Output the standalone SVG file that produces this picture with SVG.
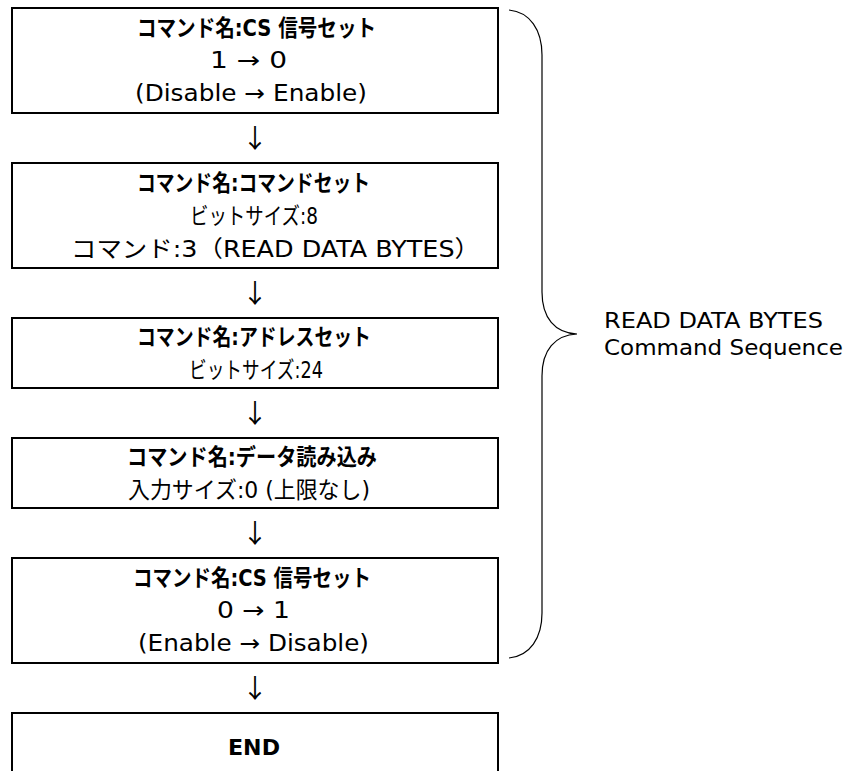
<svg xmlns="http://www.w3.org/2000/svg" width="851" height="771" viewBox="0 0 851 771">
<style>
.box{fill:#fff;stroke:#000;stroke-width:2}
.t{font-family:"DejaVu Sans","Noto Sans CJK JP",sans-serif;font-size:23px;fill:#000}
.j{font-family:"Noto Sans CJK JP","DejaVu Sans",sans-serif}
.b{font-weight:bold}
.arr{font-family:"Noto Sans CJK JP","DejaVu Sans",sans-serif;font-size:26px;fill:#000;text-anchor:middle}
.lbl{font-family:"DejaVu Sans",sans-serif;font-size:22px;fill:#000}
.brace{fill:none;stroke:#000;stroke-width:1.2}
</style>
<rect width="851" height="771" fill="#fff"/>
<g id="node1">
<rect class="box" x="12" y="8" width="486" height="105"/>
<text class="t b" x="137" y="36" textLength="239" lengthAdjust="spacingAndGlyphs">コマンド名:CS 信号セット</text>
<text class="t" x="210" y="68" textLength="77" lengthAdjust="spacingAndGlyphs">1 → 0</text>
<text class="t" x="135" y="101" textLength="232" lengthAdjust="spacingAndGlyphs">(Disable → Enable)</text>
</g>
<g id="node2">
<rect class="box" x="12" y="163" width="486" height="105"/>
<text class="t b" x="137" y="191" textLength="233" lengthAdjust="spacingAndGlyphs">コマンド名:コマンドセット</text>
<text class="t" x="190" y="224" textLength="128" lengthAdjust="spacingAndGlyphs">ビットサイズ:8</text>
<text class="t" x="71" y="257" textLength="409" lengthAdjust="spacingAndGlyphs">コマンド:3（READ DATA BYTES）</text>
</g>
<g id="node3">
<rect class="box" x="12" y="318" width="486" height="70"/>
<text class="t b" x="137" y="345" textLength="234" lengthAdjust="spacingAndGlyphs">コマンド名:アドレスセット</text>
<text class="t" x="189" y="378" textLength="134" lengthAdjust="spacingAndGlyphs">ビットサイズ:24</text>
</g>
<g id="node4">
<rect class="box" x="12" y="438" width="486" height="70"/>
<text class="t b" x="127" y="465" textLength="250" lengthAdjust="spacingAndGlyphs">コマンド名:データ読み込み</text>
<text class="t" x="128" y="498" textLength="242" lengthAdjust="spacingAndGlyphs">入力サイズ:0 (上限なし)</text>
</g>
<g id="node5">
<rect class="box" x="12" y="558" width="486" height="105"/>
<text class="t b" x="133" y="586" textLength="238" lengthAdjust="spacingAndGlyphs">コマンド名:CS 信号セット</text>
<text class="t" x="217" y="618" textLength="73" lengthAdjust="spacingAndGlyphs">0 → 1</text>
<text class="t" x="138" y="651" textLength="231" lengthAdjust="spacingAndGlyphs">(Enable → Disable)</text>
</g>
<g id="node6">
<rect class="box" x="12" y="713" width="486" height="70"/>
<text class="t b" x="228" y="755" style="font-size:21px" textLength="52" lengthAdjust="spacingAndGlyphs">END</text>
</g>
<g id="connectors">
<text class="arr" x="255" y="148">↓</text>
<text class="arr" x="255" y="303">↓</text>
<text class="arr" x="255" y="423">↓</text>
<text class="arr" x="255" y="543">↓</text>
<text class="arr" x="255" y="698">↓</text>
</g>
<g id="brace">
<path class="brace" d="M509,10 C530,12 542,30 542,55 L542,292 C542,318 555,333 577,334 C555,335 542,350 542,376 L542,613 C542,638 530,656 509,658"/>
<text class="lbl" x="604" y="328" textLength="219" lengthAdjust="spacingAndGlyphs">READ DATA BYTES</text>
<text class="lbl" x="604" y="355" textLength="239" lengthAdjust="spacingAndGlyphs">Command Sequence</text>
</g>
</svg>
